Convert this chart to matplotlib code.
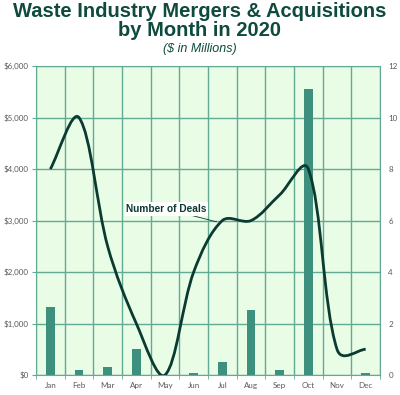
import matplotlib.pyplot as plt
import numpy as np
from matplotlib.path import Path
from matplotlib.patches import PathPatch

MONTHS = ["Jan", "Feb", "Mar", "Apr", "May", "Jun",
          "Jul", "Aug", "Sep", "Oct", "Nov", "Dec"]
VALUE_MILLIONS = [1320, 100, 150, 505, 0, 30, 255, 1255, 100, 5565, 0, 40]
NUM_DEALS = [8, 10, 5, 2, 0, 4, 6, 6, 7, 8, 1, 1]
LEFT_TICKS = [0, 1000, 2000, 3000, 4000, 5000, 6000]
RIGHT_TICKS = [0, 2, 4, 6, 8, 10, 12]

TITLE_COLOR = "#0e4a3d"
BAR_COLOR = "#3d8f7e"
LINE_COLOR = "#0b3a31"
GRID_COLOR = "#62aa94"
BG_COLOR = "#e8fce6"
TICK_COLOR = "#595959"


def smooth_path(xs, ys, sx=28.67, sy=25.75, t=1 / 3, w=0.7):
    """Excel-like smoothed line: Bezier control points partly scaled by segment length."""
    pts = np.column_stack([xs, ys]).astype(float)
    scale = np.array([sx, sy])
    n = len(pts)
    before, after = [None] * n, [None] * n
    for i in range(n):
        p0 = pts[max(i - 1, 0)]
        p1 = pts[i]
        p2 = pts[min(i + 1, n - 1)]
        d01 = np.hypot(*((p1 - p0) * scale))
        d12 = np.hypot(*((p2 - p1) * scale))
        tot = d01 + d12 if d01 + d12 > 0 else 1
        fa = t * (w * d01 / tot + (1 - w) * 0.5)
        fb = t * (w * d12 / tot + (1 - w) * 0.5)
        before[i] = p1 - fa * (p2 - p0)
        after[i] = p1 + fb * (p2 - p0)
    verts = [pts[0]]
    codes = [Path.MOVETO]
    for i in range(n - 1):
        verts += [after[i], before[i + 1], pts[i + 1]]
        codes += [Path.CURVE4] * 3
    return Path(verts, codes)


fig = plt.figure(figsize=(4.0, 3.95), dpi=100)
ax = fig.add_axes([0.09, 0.0506, 0.86, 0.782])
ax.set_facecolor(BG_COLOR)

x = np.arange(len(MONTHS))
ax.bar(x, VALUE_MILLIONS, width=0.30, color=BAR_COLOR, zorder=2)
ax.set_xlim(-0.5, 11.5)
ax.set_ylim(0, 6000)
ax.set_yticks(LEFT_TICKS)
ax.set_yticklabels([f"${v:,}" for v in LEFT_TICKS])
ax.set_xticks(x)
ax.set_xticklabels(MONTHS)
ax.set_xticks(np.arange(-0.5, 12, 1), minor=True)
ax.tick_params(axis="x", which="major", length=0, pad=5)
ax.tick_params(axis="x", which="minor", length=3, color=GRID_COLOR)
ax.tick_params(axis="y", length=3, color=GRID_COLOR, pad=2)
ax.tick_params(labelsize=5.8, labelcolor=TICK_COLOR)
for lbl in ax.get_xticklabels() + ax.get_yticklabels():
    lbl.set_family("Lato")
ax.grid(True, which="minor", axis="x", color=GRID_COLOR, lw=1)
ax.grid(True, which="major", axis="y", color=GRID_COLOR, lw=1)
ax.set_axisbelow(True)
for s in ax.spines.values():
    s.set_color(GRID_COLOR)

ax2 = ax.twinx()
ax2.set_ylim(0, 12)
ax2.set_yticks(RIGHT_TICKS)
ax2.tick_params(axis="y", length=0, pad=6, labelsize=5.8, labelcolor=TICK_COLOR)
for lbl in ax2.get_yticklabels():
    lbl.set_family("Lato")
for s in ax2.spines.values():
    s.set_visible(False)
ax2.add_patch(PathPatch(smooth_path(x, NUM_DEALS), facecolor="none",
                        edgecolor=LINE_COLOR, lw=2, zorder=3))

ax2.annotate("Number of Deals", xy=(5.8, 5.95), xytext=(5.46, 6.45),
             ha="right", va="center", fontsize=7.3, fontweight="bold",
             color=LINE_COLOR, family="Liberation Sans",
             bbox=dict(boxstyle="square,pad=0.15", fc="white", ec="none"),
             arrowprops=dict(arrowstyle="-", color=LINE_COLOR, lw=0.6,
                             shrinkA=0, shrinkB=0))

fig.text(0.5, 0.970, "Waste Industry Mergers & Acquisitions",
         ha="center", va="center", fontsize=14.5, fontweight="bold",
         color=TITLE_COLOR, family="Liberation Sans")
fig.text(0.5, 0.922, "by Month in 2020",
         ha="center", va="center", fontsize=14.5, fontweight="bold",
         color=TITLE_COLOR, family="Liberation Sans")
fig.text(0.5, 0.877, "($ in Millions)", ha="center", va="center",
         fontsize=9, style="italic", color=TITLE_COLOR, family="Liberation Sans")

fig.savefig("out.png", dpi=100)
